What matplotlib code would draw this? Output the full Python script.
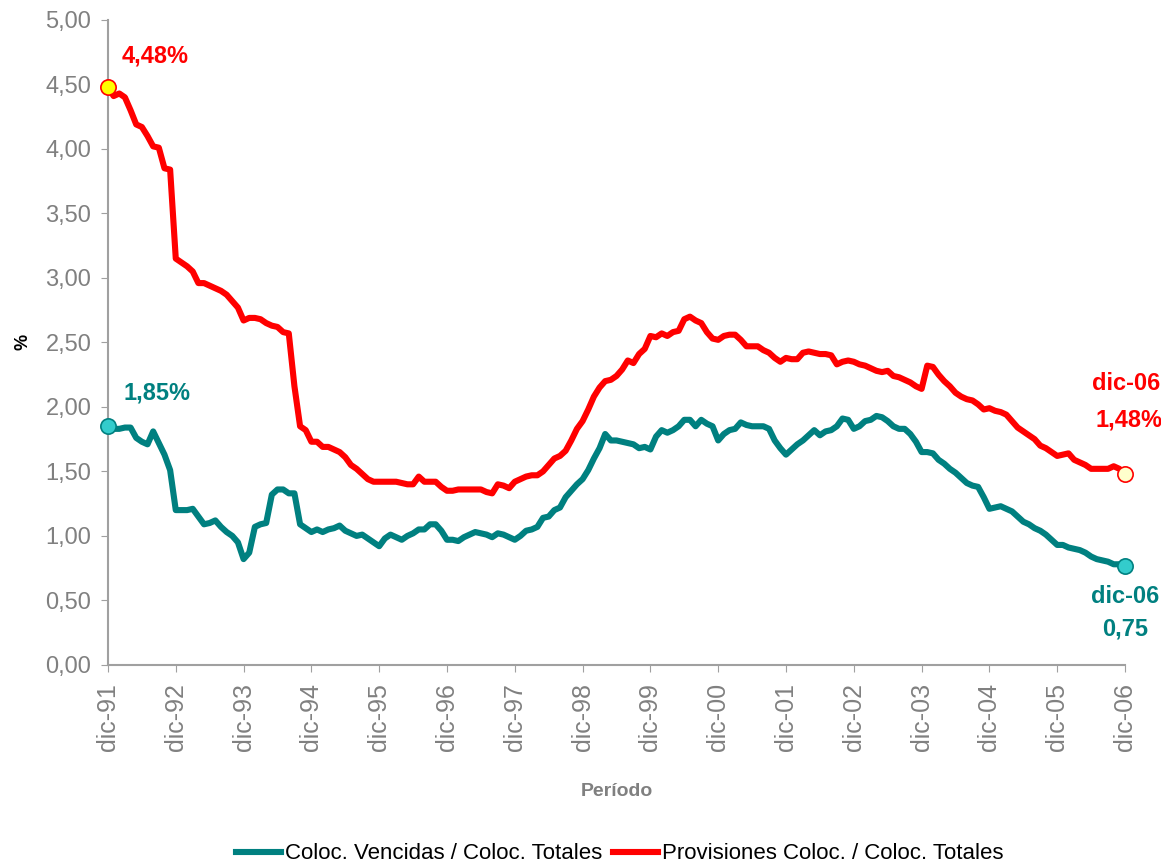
import matplotlib
matplotlib.use("Agg")
import matplotlib.pyplot as plt
import numpy as np

plt.rcParams['font.family'] = ['Liberation Sans', 'DejaVu Sans']

# ---- data: monthly values, dic-91 .. dic-06 ----
year_labels = ["dic-91", "dic-92", "dic-93", "dic-94", "dic-95", "dic-96", "dic-97", "dic-98",
               "dic-99", "dic-00", "dic-01", "dic-02", "dic-03", "dic-04", "dic-05", "dic-06"]

vencidas = [
    1.85, 1.83, 1.83, 1.84, 1.84, 1.76, 1.73, 1.71, 1.81, 1.72, 1.63, 1.51,
    1.20, 1.20, 1.20, 1.21, 1.15, 1.09, 1.10, 1.12, 1.07, 1.03, 1.00, 0.95,
    0.82, 0.87, 1.07, 1.09, 1.10, 1.32, 1.36, 1.36, 1.33, 1.33, 1.09, 1.06,
    1.03, 1.05, 1.03, 1.05, 1.06, 1.08, 1.04, 1.02, 1.00, 1.01, 0.98, 0.95,
    0.92, 0.98, 1.01, 0.99, 0.97, 1.00, 1.02, 1.05, 1.05, 1.09, 1.09, 1.04,
    0.97, 0.97, 0.96, 0.99, 1.01, 1.03, 1.02, 1.01, 0.99, 1.02, 1.01, 0.99,
    0.97, 1.00, 1.04, 1.05, 1.07, 1.14, 1.15, 1.20, 1.22, 1.30, 1.35, 1.40,
    1.44, 1.51, 1.60, 1.68, 1.79, 1.74, 1.74, 1.73, 1.72, 1.71, 1.68, 1.69,
    1.67, 1.77, 1.82, 1.80, 1.82, 1.85, 1.90, 1.90, 1.85, 1.90, 1.87, 1.85,
    1.74, 1.79, 1.82, 1.83, 1.88, 1.86, 1.85, 1.85, 1.85, 1.83, 1.74, 1.68,
    1.63, 1.67, 1.71, 1.74, 1.78, 1.82, 1.78, 1.81, 1.82, 1.85, 1.91, 1.90,
    1.83, 1.85, 1.89, 1.90, 1.93, 1.92, 1.89, 1.85, 1.83, 1.83, 1.79, 1.73,
    1.65, 1.65, 1.64, 1.59, 1.56, 1.52, 1.49, 1.45, 1.41, 1.39, 1.38, 1.30,
    1.21, 1.22, 1.23, 1.21, 1.19, 1.15, 1.11, 1.09, 1.06, 1.04, 1.01, 0.97,
    0.93, 0.93, 0.91, 0.90, 0.89, 0.87, 0.84, 0.82, 0.81, 0.80, 0.78, 0.78,
    0.77,
]

provisiones = [
    4.48, 4.41, 4.43, 4.40, 4.30, 4.19, 4.17, 4.10, 4.02, 4.01, 3.85, 3.84,
    3.15, 3.12, 3.09, 3.05, 2.96, 2.96, 2.94, 2.92, 2.90, 2.87, 2.82, 2.77,
    2.67, 2.69, 2.69, 2.68, 2.65, 2.63, 2.62, 2.58, 2.57, 2.16, 1.85, 1.82,
    1.73, 1.73, 1.69, 1.69, 1.67, 1.65, 1.61, 1.55, 1.52, 1.48, 1.44, 1.42,
    1.42, 1.42, 1.42, 1.42, 1.41, 1.40, 1.40, 1.46, 1.42, 1.42, 1.42, 1.38,
    1.35, 1.35, 1.36, 1.36, 1.36, 1.36, 1.36, 1.34, 1.33, 1.40, 1.39, 1.37,
    1.42, 1.44, 1.46, 1.47, 1.47, 1.50, 1.55, 1.60, 1.62, 1.66, 1.74, 1.83,
    1.89, 1.98, 2.08, 2.15, 2.20, 2.21, 2.24, 2.29, 2.36, 2.34, 2.41, 2.45,
    2.55, 2.54, 2.57, 2.55, 2.58, 2.59, 2.68, 2.70, 2.67, 2.65, 2.58, 2.53,
    2.52, 2.55, 2.56, 2.56, 2.52, 2.47, 2.47, 2.47, 2.44, 2.42, 2.38, 2.35,
    2.38, 2.37, 2.37, 2.42, 2.43, 2.42, 2.41, 2.41, 2.40, 2.33, 2.35, 2.36,
    2.35, 2.33, 2.32, 2.30, 2.28, 2.27, 2.28, 2.24, 2.23, 2.21, 2.19, 2.16,
    2.14, 2.32, 2.31, 2.25, 2.20, 2.16, 2.11, 2.08, 2.06, 2.05, 2.02, 1.98,
    1.99, 1.97, 1.96, 1.94, 1.89, 1.84, 1.81, 1.78, 1.75, 1.70, 1.68, 1.65,
    1.62, 1.63, 1.64, 1.59, 1.57, 1.55, 1.52, 1.52, 1.52, 1.52, 1.54, 1.52,
    1.48,
]

teal = "#008080"
red = "#FF0000"
grey = "#808080"

months = np.arange(len(vencidas))

fig = plt.figure(figsize=(11.61, 8.68), dpi=100)
ax = fig.add_axes([0.093, 0.234, 0.876, 0.743])

ax.plot(months, vencidas, color=teal, lw=4.4, solid_joinstyle='round',
        label="Coloc. Vencidas / Coloc. Totales", zorder=3)
ax.plot(months, provisiones, color=red, lw=4.4, solid_joinstyle='round',
        label="Provisiones Coloc. / Coloc. Totales", zorder=3)

# end markers
ax.plot(months[0], provisiones[0], 'o', ms=11, mfc="#FFFF00", mec=red, mew=1.2, zorder=4, clip_on=False)
ax.plot(months[-1], provisiones[-1], 'o', ms=11, mfc="#FFFFCC", mec=red, mew=1.2, zorder=4, clip_on=False)
ax.plot(months[0], vencidas[0], 'o', ms=11, mfc="#33CCCC", mec=teal, mew=1.2, zorder=4, clip_on=False)
ax.plot(months[-1], vencidas[-1], 'o', ms=11, mfc="#33CCCC", mec=teal, mew=1.2, zorder=4, clip_on=False)

# annotations
lab = dict(fontsize=17, fontweight='bold', ha='center', va='center', textcoords='offset points')
ax.annotate("4,48%", (months[0], provisiones[0]), xytext=(34, 22), color=red, **lab)
ax.annotate("1,85%", (months[0], vencidas[0]), xytext=(35, 24), color=teal, **lab)
ax.annotate("dic-06", (months[-1], provisiones[-1]), xytext=(1, 65), color=red, annotation_clip=False, **lab)
ax.annotate("1,48%", (months[-1], provisiones[-1]), xytext=(3, 39), color=red, annotation_clip=False, **lab)
ax.annotate("dic-06", (months[-1], vencidas[-1]), xytext=(0, -22), color=teal, annotation_clip=False, **lab)
ax.annotate("0,75", (months[-1], vencidas[-1]), xytext=(0, -46), color=teal, annotation_clip=False, **lab)

# axes
ax.set_xlim(0, len(vencidas) - 1)
ax.set_ylim(0, 5)
ax.set_yticks(np.arange(0, 5.01, 0.5))
ax.set_yticklabels([f"{v:.2f}".replace(".", ",") for v in np.arange(0, 5.01, 0.5)])
ax.set_xticks(np.arange(0, len(vencidas), 12))
ax.set_xticklabels(year_labels, rotation=90)

ax.tick_params(axis='both', colors="#A0A0A0", labelcolor=grey, direction='out', length=5)
ax.tick_params(axis='x', pad=8, labelsize=18)
ax.tick_params(axis='y', pad=7, labelsize=17)
for s in ['top', 'right']:
    ax.spines[s].set_visible(False)
for s in ['left', 'bottom']:
    ax.spines[s].set_color("#A0A0A0")
    ax.spines[s].set_linewidth(1.5)

ax.set_ylabel("%", fontsize=13, fontweight='bold', color='black', labelpad=10)
ax.set_xlabel("Período", fontsize=14, fontweight='bold', color=grey, labelpad=23)

fig.legend(loc='lower center', bbox_to_anchor=(0.534, -0.019), ncol=2, frameon=False,
           fontsize=16, handlelength=2.0, handletextpad=0.2, columnspacing=0.5)

fig.savefig("out.png", dpi=100)
